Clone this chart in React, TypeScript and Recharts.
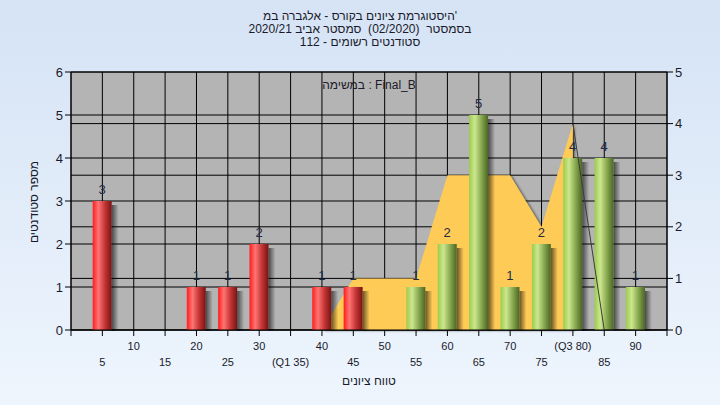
import React from "react";
import { ComposedChart, Bar, Area, Line, XAxis, YAxis, CartesianGrid, LabelList } from "recharts";

const scores = [5, 10, 15, 20, 25, 30, 35, 40, 45, 50, 55, 60, 65, 70, 75, 80, 85, 90];
const counts = [3, 0, 0, 1, 1, 2, 0, 1, 1, 0, 1, 2, 5, 1, 2, 4, 4, 1];
const passScore = 55;
const areaScores = [40, 45, 50, 55, 60, 65, 70, 75, 80];
const areaValues = [0, 1, 1, 1, 3, 3, 3, 2, 4];
const tailScores = [80, 85, 90];
const tailValues = [4, 0, 0];
const xTicks = [0, 5, 10, 15, 20, 25, 30, 35, 40, 45, 50, 55, 60, 65, 70, 75, 80, 85, 90, 95];
const leftTicks = [0, 1, 2, 3, 4, 5, 6];
const rightTicks = [0, 1, 2, 3, 4, 5];
const quartileScores = [35, 80];
const quartileLabels = ["(Q1 35)", "(Q3 80)"];
const titleLines = [
  "'היסטוגרמת ציונים בקורס - אלגברה במ",
  "בסמסטר  (02/2020)  סמסטר אביב 2020/21",
  "סטודנטים רשומים - 112",
];
const legendText = "במשימה : Final_B";
const xTitle = "טווח ציונים";
const yTitle = "מספר סטודנטים";

const FONT = '"Liberation Sans", "DejaVu Sans", Arial, sans-serif';
const TEXT = "#1a1a2a";

const BarShape = (props: any) => {
  const { x, y, width, height, payload } = props;
  if (!height || height <= 0) return null;
  const pass = payload && payload.x >= passScore;
  return (
    <g>
      <rect x={x + width} y={y + 4} width={7} height={height - 3} fill="url(#shadowGrad)" />
      <rect x={x} y={y} width={width} height={height} fill={pass ? "url(#greenGrad)" : "url(#redGrad)"} />
    </g>
  );
};

const BarLabel = (props: any) => {
  const { x, y, width, value } = props;
  if (!value) return null;
  return (
    <text x={x + width / 2} y={y - 7} textAnchor="middle" fontSize={13} fill="#1f2a44" fontFamily={FONT}>
      {value}
    </text>
  );
};

const XTick = (props: any) => {
  const { x, y, payload } = props;
  const v = payload.value;
  if (scores.indexOf(v) < 0) return null;
  const qi = quartileScores.indexOf(v);
  const label = qi >= 0 ? quartileLabels[qi] : String(v);
  const row = v % 10 === 0 ? 0 : 1;
  return (
    <text x={x} y={y + 12 + row * 16} textAnchor="middle" fontSize={11} fill={TEXT} fontFamily={FONT}>
      {label}
    </text>
  );
};

export default function App() {
  const data = scores.map((s, i) => {
    const ai = areaScores.indexOf(s);
    const ti = tailScores.indexOf(s);
    return {
      x: s,
      count: counts[i],
      area: ai >= 0 ? areaValues[ai] : null,
      tail: ti >= 0 ? tailValues[ti] : null,
    };
  });

  return (
    <div
      style={{
        position: "relative",
        width: 720,
        height: 405,
        background: "linear-gradient(#d5e3f5, #eef5fd)",
        fontFamily: FONT,
        overflow: "hidden",
      }}
    >
      <style>{`body{margin:0} .area-shadow .recharts-area-area{filter:drop-shadow(2px 1px 0.8px rgba(0,0,0,0.45));}`}</style>
      <ComposedChart width={720} height={405} data={data} margin={{ top: 72, right: 0, bottom: 0, left: 0 }}>
        <defs>
          <linearGradient id="redGrad" x1="0" y1="0" x2="1" y2="0">
            <stop offset="0%" stopColor="#ff1c1c" />
            <stop offset="30%" stopColor="#ff7474" />
            <stop offset="65%" stopColor="#c43434" />
            <stop offset="100%" stopColor="#761414" />
          </linearGradient>
          <linearGradient id="greenGrad" x1="0" y1="0" x2="1" y2="0">
            <stop offset="0%" stopColor="#9ccb4c" />
            <stop offset="30%" stopColor="#cce78e" />
            <stop offset="65%" stopColor="#88a850" />
            <stop offset="100%" stopColor="#4a6624" />
          </linearGradient>
          <linearGradient id="shadowGrad" x1="0" y1="0" x2="1" y2="0">
            <stop offset="0%" stopColor="#000" stopOpacity={0.6} />
            <stop offset="100%" stopColor="#000" stopOpacity={0} />
          </linearGradient>
        </defs>
        <CartesianGrid yAxisId="L" fill="#b4b4b4" fillOpacity={1} stroke="#000" />
        <CartesianGrid yAxisId="R" vertical={false} stroke="#000" />
        <XAxis
          type="number"
          dataKey="x"
          domain={[0, 95]}
          ticks={xTicks}
          interval={0}
          height={75}
          tick={<XTick />}
          tickLine={{ stroke: "#000" }}
          axisLine={{ stroke: "#000" }}
          allowDataOverflow
        />
        <YAxis
          yAxisId="L"
          domain={[0, 6]}
          ticks={leftTicks}
          width={71}
          tick={{ fill: TEXT, fontSize: 13, fontFamily: FONT }}
          tickLine={{ stroke: "#000" }}
          axisLine={{ stroke: "#000" }}
        />
        <YAxis
          yAxisId="R"
          orientation="right"
          domain={[0, 5]}
          ticks={rightTicks}
          width={53}
          tick={{ fill: TEXT, fontSize: 13, fontFamily: FONT }}
          tickLine={{ stroke: "#000" }}
          axisLine={{ stroke: "#000" }}
        />
        <Area
          yAxisId="R"
          dataKey="area"
          type="linear"
          fill="#ffcb57"
          fillOpacity={1}
          stroke="none"
          className="area-shadow"
          isAnimationActive={false}
        />
        <Line yAxisId="R" dataKey="tail" type="linear" stroke="#3c3c3c" strokeWidth={1} dot={false} isAnimationActive={false} />
        <Bar yAxisId="L" dataKey="count" barSize={19} shape={<BarShape />} isAnimationActive={false}>
          <LabelList dataKey="count" content={<BarLabel />} />
        </Bar>
      </ComposedChart>

      <div
        dir="rtl"
        style={{
          position: "absolute",
          top: 10,
          left: 0,
          width: 720,
          textAlign: "center",
          fontSize: 12,
          lineHeight: "13px",
          color: TEXT,
          whiteSpace: "pre",
        }}
      >
        {titleLines.map((t, i) => (
          <div key={i}>{t}</div>
        ))}
      </div>
      <div
        style={{
          position: "absolute",
          top: 78,
          left: 71,
          width: 596,
          textAlign: "center",
          fontSize: 12,
          lineHeight: "14px",
          color: TEXT,
        }}
      >
        {legendText}
      </div>
      <div
        style={{
          position: "absolute",
          top: 374,
          left: 71,
          width: 596,
          textAlign: "center",
          fontSize: 12,
          lineHeight: "14px",
          color: TEXT,
        }}
      >
        {xTitle}
      </div>
      <div
        style={{
          position: "absolute",
          left: 34,
          top: 202,
          transform: "translate(-50%, -50%) rotate(-90deg)",
          fontSize: 12,
          lineHeight: "14px",
          color: TEXT,
          whiteSpace: "nowrap",
        }}
      >
        {yTitle}
      </div>
    </div>
  );
}
